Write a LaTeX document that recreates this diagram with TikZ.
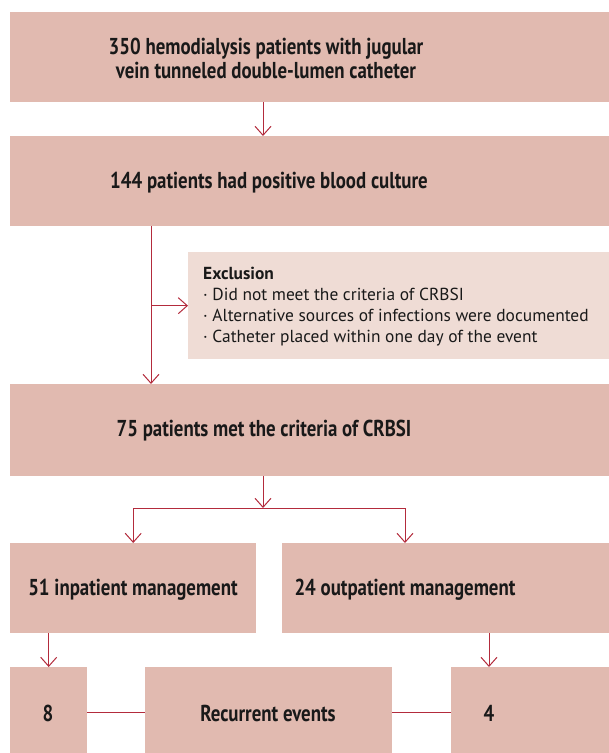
\documentclass[tikz,border=0pt]{standalone}
\usepackage{fontspec}
\setmainfont{PT Sans}
\newfontfamily\headfont{PT Sans}[FakeStretch=0.82]
\usetikzlibrary{arrows.meta}
\definecolor{boxfill}{HTML}{E1BAB0}
\definecolor{exfill}{HTML}{EFDCD5}
\definecolor{linkred}{HTML}{B32B3C}
\begin{document}
\begin{tikzpicture}[x=1pt,y=-1pt,
  panel/.style={fill=boxfill, draw=none, inner sep=0pt, anchor=north west},
  expanel/.style={fill=exfill, draw=none, inner sep=0pt, anchor=north west},
  label/.style={font=\headfont\fontsize{23}{24}\selectfont\bfseries, align=center, inner sep=0pt, text=black!90},
  link/.style={draw=linkred, line width=1pt},
  arr/.style={link, -{Straight Barb[length=9pt,width=16pt]}},
]
\useasboundingbox (0,0) rectangle (609,753);

% boxes
\node[panel, minimum width=599pt, minimum height=90pt] (b1) at (10,12) {};
\node[panel, minimum width=599pt, minimum height=90pt] (b2) at (10,136) {};
\node[expanel, minimum width=421pt, minimum height=107pt] (ex) at (188,252) {};
\node[panel, minimum width=599pt, minimum height=92pt] (b3) at (10,384) {};
\node[panel, minimum width=246pt, minimum height=90pt] (b4) at (10,543) {};
\node[panel, minimum width=327pt, minimum height=90pt] (b5) at (282,543) {};
\node[panel, minimum width=77pt, minimum height=86pt] (b6) at (10,667) {};
\node[panel, minimum width=247pt, minimum height=86pt] (b8) at (145,667) {};
\node[panel, minimum width=158pt, minimum height=86pt] (b7) at (451,667) {};

% texts
\node[label] (t1) at (266,58) {350 hemodialysis patients with jugular\\vein tunneled double-lumen catheter};
\node[label] (t2) at (269,183) {144 patients had positive blood culture};
\node[label] (t3) at (264,431) {75 patients met the criteria of CRBSI};
\node[label] (t4) at (133,590) {51 inpatient management};
\node[label] (t5) at (405,590) {24 outpatient management};
\node[label] (t6) at (48,713) {8};
\node[label] (t8) at (268,713) {Recurrent events};
\node[label] (t7) at (489,713) {4};
\node[anchor=north west, align=left, inner sep=0pt, text=black!90,
      font=\fontsize{17.4}{21}\selectfont] (tex) at (203,267)
  {\textbf{Exclusion}\\
   · Did not meet the criteria of CRBSI\\
   · Alternative sources of infections were documented\\
   · Catheter placed within one day of the event};

% connectors
\coordinate (spine) at (151,0);
\coordinate (split) at (263,508);
\coordinate (row) at (0,712);
\coordinate (mid) at (263,0);
\draw[arr] (b1.south -| mid) -- (b2.north -| mid);
\draw[arr] (b2.south -| spine) -- (b3.north -| spine);
\draw[arr] (ex.west -| spine) -- (ex.west);
\draw[arr] (b3.south -| mid) -- (split);
\draw[link] (b4.north |- split) -- (t5 |- split);
\draw[arr] (b4.north |- split) -- (b4.north);
\draw[arr] (t5 |- split) -- (t5 |- b5.north);
\draw[arr] (b6.north |- b4.south) -- (b6.north);
\draw[arr] (t7 |- b5.south) -- (t7 |- b7.north);
\draw[link] (b6.east |- row) -- (b8.west |- row);
\draw[link] (b8.east |- row) -- (b7.west |- row);
\end{tikzpicture}
\end{document}
